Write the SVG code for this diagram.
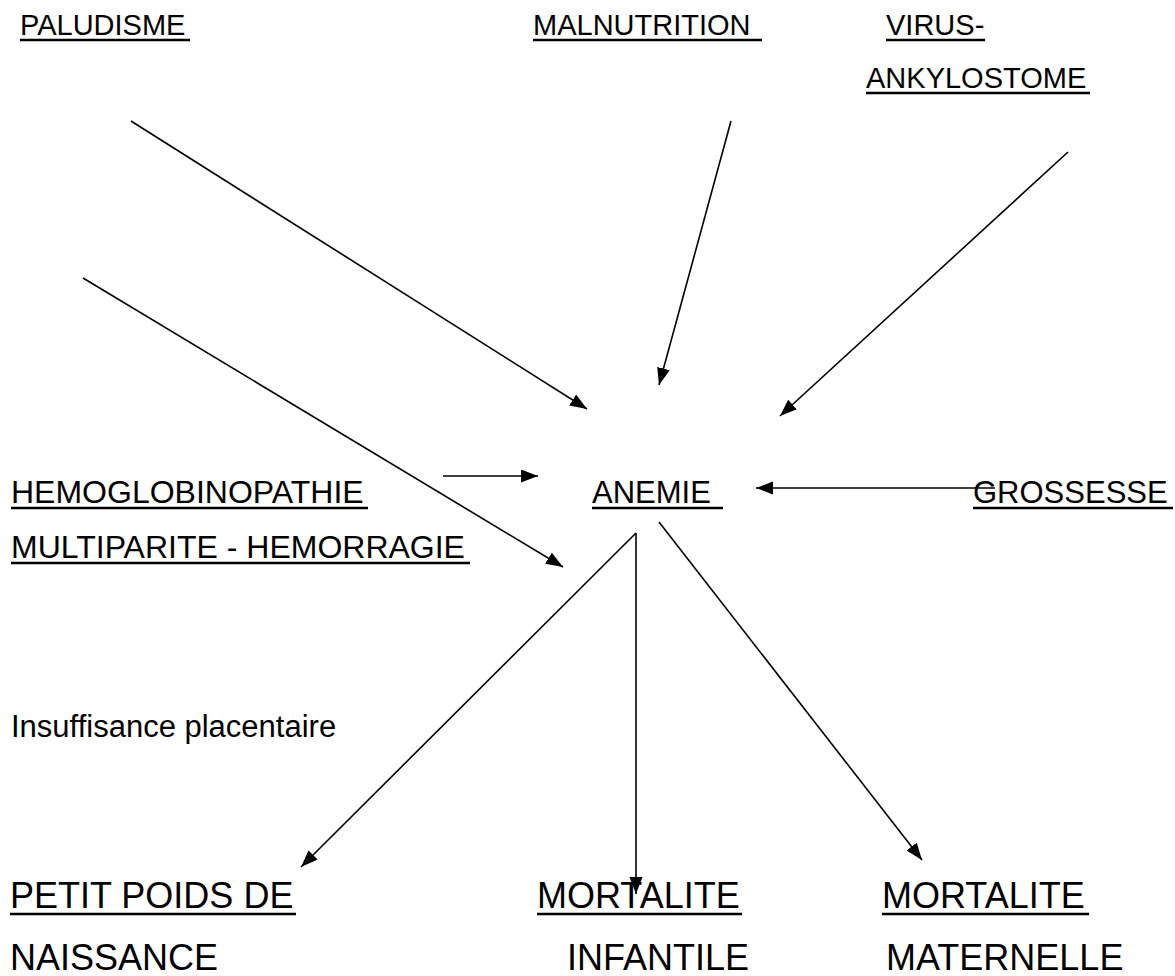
<svg xmlns="http://www.w3.org/2000/svg" width="1175" height="976" viewBox="0 0 1175 976">
<style>
text{font-family:"Liberation Sans",Arial,sans-serif;fill:#000}
.t{font-size:29px}
.m{font-size:31px}
.h{font-size:32px}
.b{font-size:36px}
.u{stroke:#000;stroke-width:2.5}
.c{stroke:#000;stroke-width:1.6;fill:none;marker-end:url(#ah)}
</style>
<defs>
<marker id="ah" markerUnits="userSpaceOnUse" markerWidth="18" markerHeight="14" refX="17" refY="6.5" orient="auto">
<path d="M0,0 L17,6.5 L0,13 z" fill="#000"/>
</marker>
</defs>
<rect width="1175" height="976" fill="#fff"/>
<g id="connectors">
<line class="c" x1="131" y1="121" x2="587" y2="409"/>
<line class="c" x1="731" y1="121" x2="659" y2="385"/>
<line class="c" x1="1068" y1="152" x2="780" y2="416"/>
<line class="c" x1="83" y1="278" x2="563" y2="567"/>
<line class="c" x1="443" y1="476" x2="538" y2="476"/>
<line class="c" x1="995" y1="488" x2="756" y2="488"/>
<line class="c" x1="636" y1="533" x2="301" y2="867"/>
<line class="c" x1="636" y1="533" x2="636" y2="894"/>
<line class="c" x1="659" y1="522" x2="922" y2="860"/>
</g>
<g id="paludisme"><text class="t" x="20" y="35">PALUDISME</text><line class="u" x1="20" y1="40" x2="190" y2="40"/></g>
<g id="malnutrition"><text class="t" x="533" y="35">MALNUTRITION</text><line class="u" x1="533" y1="40" x2="762" y2="40"/></g>
<g id="virus"><text class="t" x="886" y="35">VIRUS-</text><line class="u" x1="886" y1="40" x2="985" y2="40"/>
<text class="t" x="866" y="88">ANKYLOSTOME</text><line class="u" x1="866" y1="93" x2="1090" y2="93"/></g>
<g id="anemie"><text class="m" x="592" y="503">ANEMIE</text><line class="u" x1="592" y1="508" x2="723" y2="508"/></g>
<g id="grossesse"><text class="m" x="973" y="503">GROSSESSE</text><line class="u" x1="973" y1="508" x2="1173" y2="508"/></g>
<g id="hemoglobinopathie"><text class="h" x="11" y="503">HEMOGLOBINOPATHIE</text><line class="u" x1="11" y1="508" x2="368" y2="508"/></g>
<g id="multiparite"><text class="h" x="11" y="558">MULTIPARITE - HEMORRAGIE</text><line class="u" x1="11" y1="563" x2="470" y2="563"/></g>
<g id="insuffisance"><text class="m" x="11" y="737">Insuffisance placentaire</text></g>
<g id="petit-poids"><text class="b" x="10" y="908">PETIT POIDS DE</text><line class="u" x1="10" y1="914" x2="296" y2="914"/>
<text class="b" x="10" y="970">NAISSANCE</text></g>
<g id="mortalite-infantile"><text class="b" x="537" y="908">MORTALITE</text><line class="u" x1="537" y1="914" x2="742" y2="914"/>
<text class="b" x="567" y="970">INFANTILE</text></g>
<g id="mortalite-maternelle"><text class="b" x="882" y="908">MORTALITE</text><line class="u" x1="882" y1="914" x2="1089" y2="914"/>
<text class="b" x="886" y="970">MATERNELLE</text></g>
</svg>
